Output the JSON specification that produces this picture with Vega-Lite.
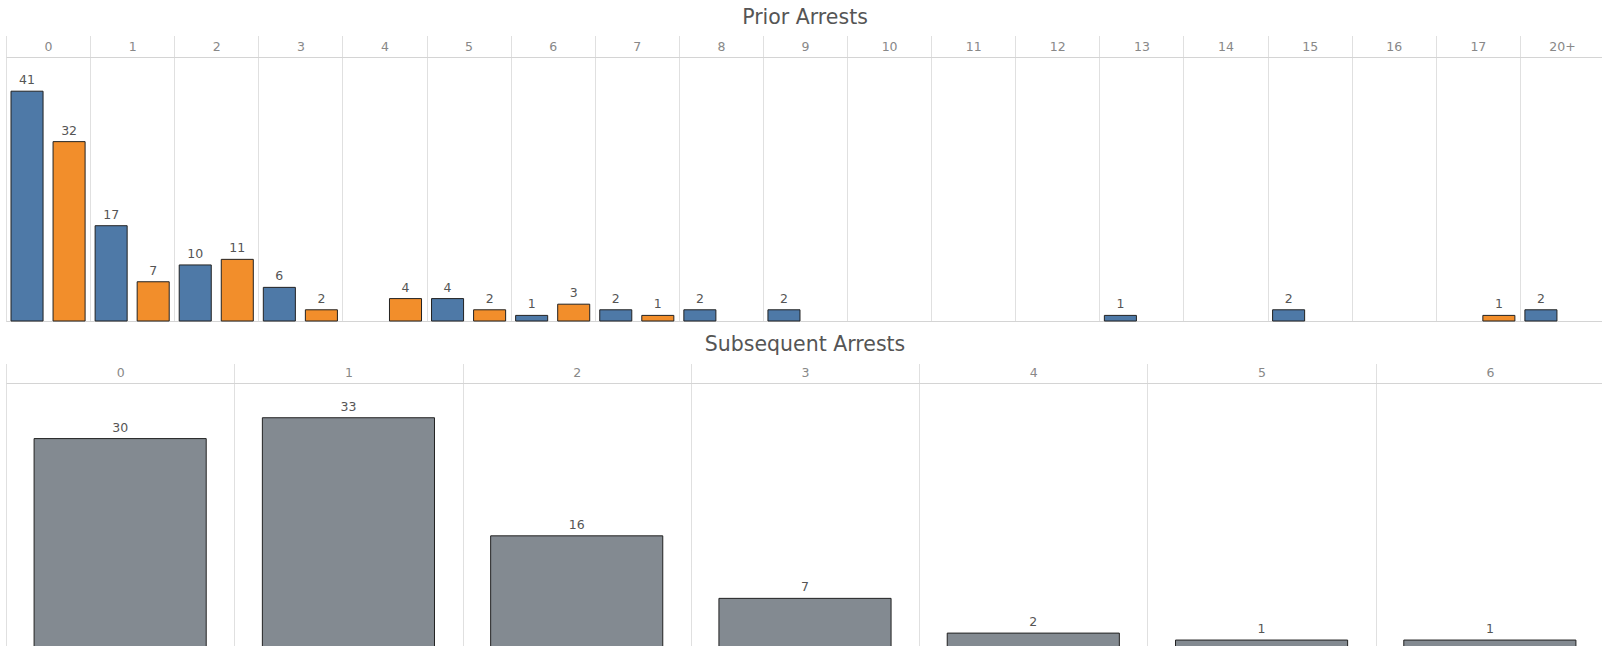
{
  "$schema": "https://vega.github.io/schema/vega-lite/v6.json",
  "padding": {"left": 5, "top": 8, "right": 0, "bottom": 0},
  "config": {"view": {"stroke": null}, "font": "DejaVu Sans", "concat": {"spacing": 13}},
  "vconcat": [
    {
      "title": {"text": "Prior Arrests", "fontSize": 20.5, "font": "DejaVu Sans", "fontWeight": "normal", "color": "#555555", "baseline": "alphabetic", "offset": -10.4, "anchor": "middle"},
      "width": 1598,
      "height": 264,
      "data": {"values": [
        {"prior": "0", "group": "Group A", "count": 41},
        {"prior": "0", "group": "Group B", "count": 32},
        {"prior": "1", "group": "Group A", "count": 17},
        {"prior": "1", "group": "Group B", "count": 7},
        {"prior": "2", "group": "Group A", "count": 10},
        {"prior": "2", "group": "Group B", "count": 11},
        {"prior": "3", "group": "Group A", "count": 6},
        {"prior": "3", "group": "Group B", "count": 2},
        {"prior": "4", "group": "Group B", "count": 4},
        {"prior": "5", "group": "Group A", "count": 4},
        {"prior": "5", "group": "Group B", "count": 2},
        {"prior": "6", "group": "Group A", "count": 1},
        {"prior": "6", "group": "Group B", "count": 3},
        {"prior": "7", "group": "Group A", "count": 2},
        {"prior": "7", "group": "Group B", "count": 1},
        {"prior": "8", "group": "Group A", "count": 2},
        {"prior": "9", "group": "Group A", "count": 2},
        {"prior": "13", "group": "Group A", "count": 1},
        {"prior": "15", "group": "Group A", "count": 2},
        {"prior": "17", "group": "Group B", "count": 1},
        {"prior": "20+", "group": "Group A", "count": 2}
      ]},
      "encoding": {
        "x": {
          "field": "prior", "type": "nominal",
          "scale": {"domain": ["0","1","2","3","4","5","6","7","8","9","10","11","12","13","14","15","16","17","20+"], "paddingInner": 0, "paddingOuter": 0},
          "axis": {"orient": "top", "title": null, "labelAngle": 0, "tickBand": "extent", "tickSize": 22, "tickDash": [1, 1], "tickColor": "#c0c0c0", "grid": true, "gridDash": [1, 1], "gridColor": "#c0c0c0", "domainColor": "#d4d4d4", "labelPadding": -11, "labelBaseline": "middle", "labelFontSize": 12.5, "labelColor": "#888888", "labelFont": "DejaVu Sans"}
        },
        "xOffset": {"field": "group", "type": "nominal", "scale": {"domain": ["Group A", "Group B"], "paddingInner": 0.238, "paddingOuter": 0.119}},
        "y": {
          "field": "count", "type": "quantitative", "stack": null,
          "scale": {"domain": [0, 47.1], "nice": false},
          "axis": {"values": [0], "grid": true, "gridColor": "#d4d4d4", "labels": false, "ticks": false, "domain": false, "title": null, "minExtent": 0, "maxExtent": 0}
        }
      },
      "layer": [
        {
          "mark": {"type": "bar", "stroke": "#222222", "strokeWidth": 1},
          "encoding": {"color": {"field": "group", "type": "nominal", "scale": {"domain": ["Group A", "Group B"], "range": ["#4e79a7", "#f28e2b"]}, "legend": null}}
        },
        {
          "mark": {"type": "text", "baseline": "bottom", "dy": -4, "fontSize": 12.5, "font": "DejaVu Sans", "color": "#555555"},
          "encoding": {"text": {"field": "count", "type": "quantitative"}}
        }
      ]
    },
    {
      "title": {"text": "Subsequent Arrests", "fontSize": 20.5, "font": "DejaVu Sans", "fontWeight": "normal", "color": "#555555", "baseline": "alphabetic", "offset": -9.4, "anchor": "middle"},
      "width": 1598,
      "height": 264,
      "data": {"values": [
        {"subsequent": "0", "count": 30},
        {"subsequent": "1", "count": 33},
        {"subsequent": "2", "count": 16},
        {"subsequent": "3", "count": 7},
        {"subsequent": "4", "count": 2},
        {"subsequent": "5", "count": 1},
        {"subsequent": "6", "count": 1}
      ]},
      "encoding": {
        "x": {
          "field": "subsequent", "type": "nominal",
          "scale": {"domain": ["0","1","2","3","4","5","6"], "paddingInner": 0, "paddingOuter": 0},
          "axis": {"orient": "top", "title": null, "labelAngle": 0, "tickBand": "extent", "tickSize": 20, "tickDash": [1, 1], "tickColor": "#c0c0c0", "grid": true, "gridDash": [1, 1], "gridColor": "#c0c0c0", "domainColor": "#d4d4d4", "labelPadding": -9.5, "labelBaseline": "middle", "labelFontSize": 12.5, "labelColor": "#888888", "labelFont": "DejaVu Sans"}
        },
        "y": {
          "field": "count", "type": "quantitative",
          "scale": {"domain": [0, 38.0], "nice": false},
          "axis": {"values": [0], "grid": true, "gridColor": "#d4d4d4", "labels": false, "ticks": false, "domain": false, "title": null, "minExtent": 0, "maxExtent": 0}
        }
      },
      "layer": [
        {
          "mark": {"type": "bar", "stroke": "#222222", "strokeWidth": 1, "color": "#838a91", "width": {"band": 0.754}}
        },
        {
          "mark": {"type": "text", "baseline": "bottom", "dy": -4, "fontSize": 12.5, "font": "DejaVu Sans", "color": "#555555"},
          "encoding": {"text": {"field": "count", "type": "quantitative"}}
        }
      ]
    }
  ]
}
